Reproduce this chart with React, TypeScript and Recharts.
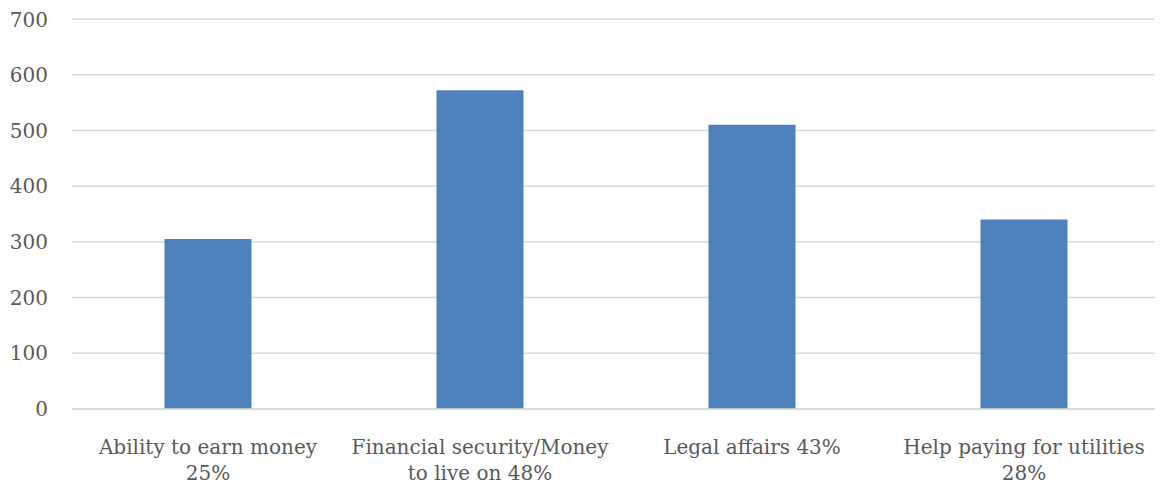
import { BarChart, Bar, XAxis, YAxis, CartesianGrid } from "recharts";

const categories = [
  "Ability to earn money 25%",
  "Financial security/Money to live on 48%",
  "Legal affairs 43%",
  "Help paying for utilities 28%",
];
const labelLines = [
  ["Ability to earn money", "25%"],
  ["Financial security/Money", "to live on 48%"],
  ["Legal affairs 43%"],
  ["Help paying for utilities", "28%"],
];
const counts = [305, 572, 510, 340];
const yTicks = [0, 100, 200, 300, 400, 500, 600, 700];

const data = categories.map((name, i) => ({ name, count: counts[i] }));

const FONT = "'DejaVu Serif', serif";
const TEXT = "#595959";

function CategoryTick(props: any) {
  const { x, y, index } = props;
  const lines = labelLines[index] || [];
  return (
    <g>
      {lines.map((line, i) => (
        <text
          key={i}
          x={x}
          y={y + 37 + i * 26}
          textAnchor="middle"
          fill={TEXT}
          fontSize={20}
          fontFamily={FONT}
        >
          {line}
        </text>
      ))}
    </g>
  );
}

export default function App() {
  return (
    <BarChart
      width={1155}
      height={477}
      data={data}
      margin={{ top: 11, right: 3, left: 0, bottom: 0 }}
      barCategoryGap="34%"
    >
      <CartesianGrid vertical={false} stroke="#d9d9d9" strokeWidth={1.5} />
      <XAxis
        dataKey="name"
        height={76}
        axisLine={{ stroke: "#d9d9d9", strokeWidth: 1.5 }}
        tickLine={false}
        tick={<CategoryTick />}
        interval={0}
      />
      <YAxis
        width={64}
        domain={[0, 700]}
        ticks={yTicks}
        axisLine={false}
        tickLine={false}
        tickSize={0}
        tickMargin={24}
        tick={{ fill: TEXT, fontSize: 20, fontFamily: FONT }}
      />
      <Bar dataKey="count" fill="#4f81bd" isAnimationActive={false} />
    </BarChart>
  );
}
